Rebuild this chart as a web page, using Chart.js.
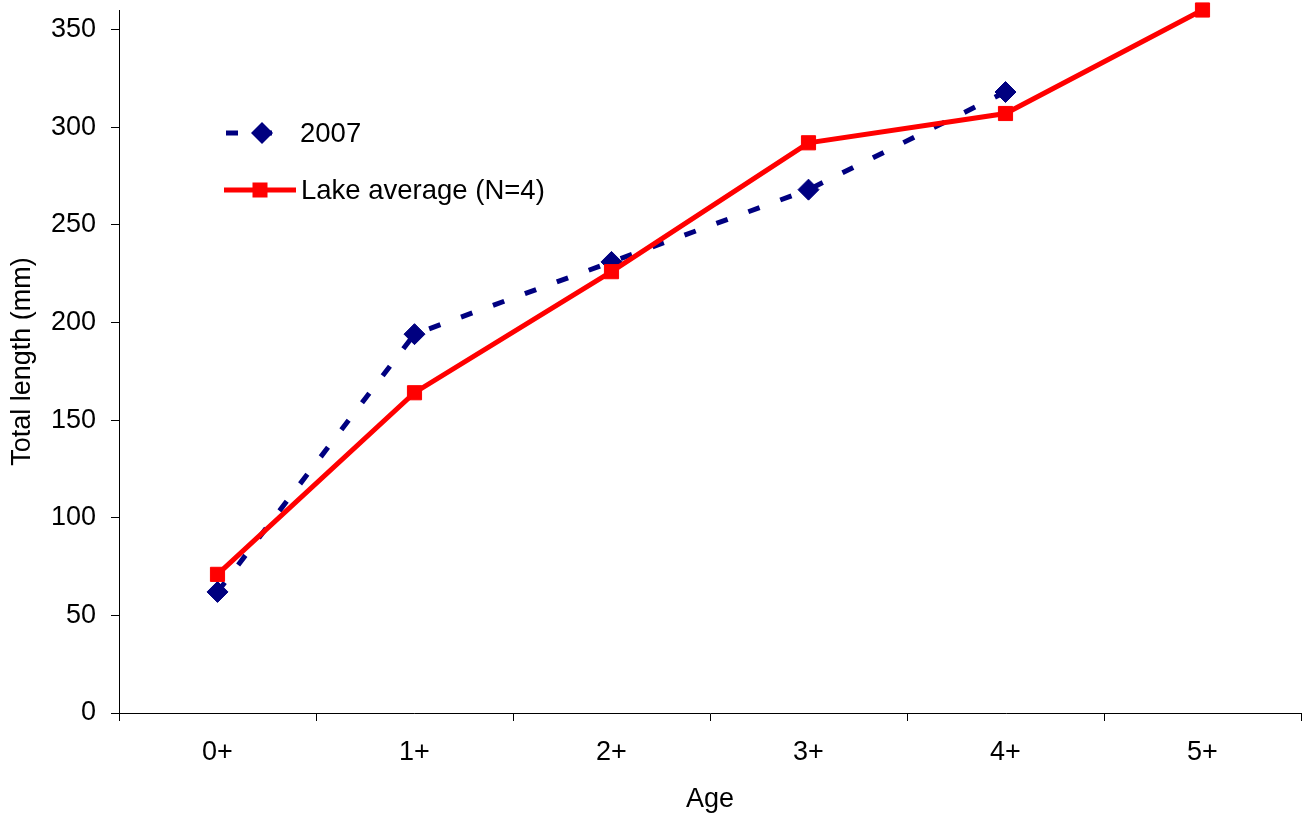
<!DOCTYPE html>
<html><head><meta charset="utf-8">
<script src="https://cdn.jsdelivr.net/npm/chart.js@4/dist/chart.umd.min.js"></script>
<style>html,body{margin:0;padding:0;background:#fff;} #wrap{width:1306px;height:823px;position:relative;}</style>
</head><body><div id="wrap"><canvas id="c" width="1306" height="823"></canvas></div>
<script>
const categories = ['0+', '1+', '2+', '3+', '4+', '5+'];
const series2007 = [62, 194, 231, 268, 318, null];
const lakeAverage = [71, 164, 226, 292, 307, 360];
const yTickValues = [0, 50, 100, 150, 200, 250, 300, 350];
const yMax = 360;
const seriesLabels = ['2007', 'Lake average (N=4)'];

const FONT = '"Liberation Sans", Arial, sans-serif';
Chart.defaults.font.family = FONT;
Chart.defaults.color = '#000';

const NAVY = '#000080';
const RED = '#ff0000';

function drawDiamond(ctx, x, y, r, color) {
  ctx.beginPath();
  ctx.moveTo(x - r, y); ctx.lineTo(x, y - r); ctx.lineTo(x + r, y); ctx.lineTo(x, y + r);
  ctx.closePath();
  ctx.fillStyle = color; ctx.fill();
}
function drawSquare(ctx, x, y, half, color) {
  ctx.fillStyle = color;
  ctx.fillRect(x - half, y - half, half * 2, half * 2);
}

const legendPlugin = {
  id: 'customLegend',
  afterDraw(chart) {
    const ctx = chart.ctx;
    ctx.save();
    ctx.strokeStyle = NAVY; ctx.lineWidth = 5; ctx.lineCap = 'butt';
    ctx.setLineDash([12, 22]);
    ctx.beginPath(); ctx.moveTo(226, 133); ctx.lineTo(290, 133); ctx.stroke();
    ctx.setLineDash([]);
    drawDiamond(ctx, 262, 133, 11, NAVY);
    ctx.strokeStyle = RED;
    ctx.beginPath(); ctx.moveTo(224, 190); ctx.lineTo(296, 190); ctx.stroke();
    drawSquare(ctx, 260, 190, 7.5, RED);
    ctx.fillStyle = '#000';
    ctx.font = '27.5px ' + FONT;
    ctx.textBaseline = 'middle'; ctx.textAlign = 'left';
    ctx.fillText(seriesLabels[0], 300, 134);
    ctx.fillText(seriesLabels[1], 301, 191);
    ctx.restore();
  }
};

new Chart(document.getElementById('c'), {
  type: 'line',
  data: {
    labels: categories,
    datasets: [
      {
        label: seriesLabels[0], data: series2007,
        borderColor: NAVY, backgroundColor: NAVY, borderWidth: 5, borderDash: [12, 22],
        borderCapStyle: 'butt',
        pointStyle: 'rectRot', pointRadius: 10.5, pointBorderWidth: 1,
        pointBackgroundColor: NAVY, pointBorderColor: NAVY,
        tension: 0, order: 2, clip: false
      },
      {
        label: seriesLabels[1], data: lakeAverage,
        borderColor: RED, backgroundColor: RED, borderWidth: 5,
        pointStyle: 'rect', pointRadius: 10, pointBorderWidth: 1,
        pointBackgroundColor: RED, pointBorderColor: RED,
        tension: 0, order: 1, clip: false
      }
    ]
  },
  options: {
    responsive: false,
    animation: false,
    events: [],
    layout: { autoPadding: false, padding: { left: 0, right: 5, top: 10, bottom: 0 } },
    plugins: { legend: { display: false }, tooltip: { enabled: false } },
    scales: {
      x: {
        type: 'category', offset: true,
        afterFit: s => { s.height = 110; s.paddingLeft = 0; s.paddingRight = 0; },
        grid: { offset: true, drawOnChartArea: false, tickLength: 8, color: '#000', lineWidth: 1 },
        border: { display: true, color: '#000', width: 1 },
        ticks: { color: '#000', font: { size: 27 }, padding: 15, maxRotation: 0, autoSkip: false },
        title: { display: true, text: 'Age', color: '#000', font: { size: 27 }, padding: { top: 0, bottom: 7 } }
      },
      y: {
        min: 0, max: yMax,
        afterBuildTicks: s => { s.ticks = yTickValues.map(v => ({ value: v })); },
        afterFit: s => { s.width = 119; s.paddingTop = 0; s.paddingBottom = 0; },
        grid: { drawOnChartArea: false, tickLength: 8, color: '#000', lineWidth: 1 },
        border: { display: true, color: '#000', width: 1 },
        ticks: { color: '#000', font: { size: 27 }, padding: 15 },
        title: { display: true, text: 'Total length (mm)', color: '#000', font: { size: 27 }, padding: { top: 6, bottom: 0 } }
      }
    }
  },
  plugins: [legendPlugin]
});
</script>
</body></html>
